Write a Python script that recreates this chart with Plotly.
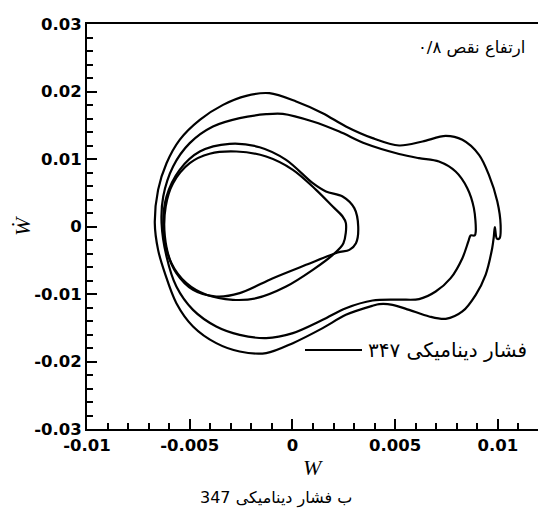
import plotly.graph_objects as go

# ---- data (W, dW/dt) ----
loopA_w = [-0.00112, 0.00018, 0.00147, 0.00260, 0.00390, 0.00519, 0.00633, 0.00746, 0.00827, 0.00908,
           0.00956, 0.00997, 0.01013, 0.01008, 0.00995, 0.00985, 0.00980, 0.00972, 0.00940, 0.00892,
           0.00827, 0.00746, 0.00665, 0.00568, 0.00487, 0.00422, 0.00390, 0.00260, 0.00147, 0.00002,
           -0.00128, -0.00257, -0.00371, -0.00484, -0.00565, -0.00621, -0.00654, -0.00670, -0.00654,
           -0.00613, -0.00549, -0.00451, -0.00338, -0.00225, -0.00112]
loopA_wd = [0.01975, 0.01852, 0.01679, 0.01482, 0.01309, 0.01200, 0.01259, 0.01343, 0.01284, 0.01062,
            0.00765, 0.00370, 0.00025, -0.00173, -0.00180, -0.00010, -0.00150, -0.00321, -0.00716, -0.01012,
            -0.01259, -0.01368, -0.01333, -0.01235, -0.01160, -0.01150, -0.01175, -0.01309, -0.01506, -0.01728,
            -0.01876, -0.01852, -0.01728, -0.01481, -0.01136, -0.00691, -0.00346, 0.00050, 0.00543,
            0.00938, 0.01284, 0.01580, 0.01802, 0.01936, 0.01975]

loopB_w = [-0.00047, 0.00099, 0.00228, 0.00357, 0.00519, 0.00616, 0.00713, 0.00794, 0.00851, 0.00883,
           0.00892, 0.00887, 0.00867, 0.00856, 0.00827, 0.00770, 0.00697, 0.00616, 0.00519, 0.00390,
           0.00260, 0.00147, 0.00002, -0.00128, -0.00257, -0.00371, -0.00484, -0.00565, -0.00613,
           -0.00637, -0.00629, -0.00581, -0.00500, -0.00387, -0.00257, -0.00128, -0.00047]
loopB_wd = [0.01669, 0.01556, 0.01407, 0.01225, 0.01074, 0.01012, 0.00963, 0.00815, 0.00568, 0.00272,
            -0.00074, -0.00133, -0.00133, -0.00222, -0.00469, -0.00765, -0.00963, -0.01076, -0.01083, -0.01096,
            -0.01210, -0.01383, -0.01580, -0.01654, -0.01605, -0.01481, -0.01235, -0.00889, -0.00444,
            0.00050, 0.00445, 0.00889, 0.01235, 0.01481, 0.01605, 0.01664, 0.01669]

loopC_w = [-0.00306, -0.00160, -0.00031, 0.00099, 0.00163, 0.00244, 0.00301, 0.00320, 0.00309, 0.00277,
           0.00220, 0.00066, -0.00095, -0.00257, -0.00371, -0.00484, -0.00565, -0.00613, -0.00629,
           -0.00613, -0.00549, -0.00451, -0.00306]
loopC_wd = [0.01225, 0.01175, 0.00988, 0.00642, 0.00519, 0.00445, 0.00272, 0.00000, -0.00247, -0.00346,
            -0.00385, -0.00568, -0.00765, -0.00987, -0.01037, -0.00938, -0.00691, -0.00345, 0.00050,
            0.00445, 0.00840, 0.01111, 0.01225]

loopD_w = [0.00260, 0.00248, 0.00196, 0.00099, -0.00031, -0.00176, -0.00290, -0.00419, -0.00516, -0.00589,
           -0.00621, -0.00617, -0.00581, -0.00500, -0.00403, -0.00273, -0.00128, 0.00002, 0.00115, 0.00196,
           0.00244, 0.00260]
loopD_wd = [0.00050, -0.00247, -0.00420, -0.00642, -0.00889, -0.01062, -0.01086, -0.01012, -0.00839, -0.00543,
            -0.00148, 0.00296, 0.00642, 0.00938, 0.01077, 0.01111, 0.01037, 0.00840, 0.00543, 0.00296,
            0.00148, 0.00050]

x_ticks = [-0.01, -0.005, 0, 0.005, 0.01]
x_tick_labels = ["-0.01", "-0.005", "0", "0.005", "0.01"]
y_ticks = [-0.03, -0.02, -0.01, 0, 0.01, 0.02, 0.03]
y_tick_labels = ["-0.03", "-0.02", "-0.01", "0", "0.01", "0.02", "0.03"]

series_name = "فشار دینامیکی ۳۴۷"
corner_label = "ارتفاع نقص ۰/۸"
caption = "ب فشار دینامیکی 347"

fig = go.Figure()
for xs, ys in [(loopA_w, loopA_wd), (loopB_w, loopB_wd), (loopC_w, loopC_wd), (loopD_w, loopD_wd)]:
    fig.add_trace(go.Scatter(x=xs, y=ys, mode="lines",
                             line=dict(color="black", width=2.2, shape="spline", smoothing=0.9),
                             showlegend=False, hoverinfo="skip"))

tickfont = dict(family="DejaVu Sans", size=16.5, color="black", weight="bold")

PW = 451.0  # plot width in px
PH = 405.0  # plot height in px


def px(X):
    return (X - 87) / PW


def py(Y):
    return (429 - Y) / PH


fig.update_xaxes(range=[-0.01, 0.01195], tickvals=x_ticks, ticktext=x_tick_labels,
                 ticks="inside", ticklen=10, tickwidth=2, tickcolor="black",
                 minor=dict(dtick=0.001, ticks="inside", ticklen=6, tickwidth=1.5, tickcolor="black"),
                 showline=True, linewidth=2, linecolor="black", mirror=True,
                 showgrid=False, zeroline=False, tickfont=tickfont, automargin=False)
fig.update_yaxes(range=[-0.03, 0.03], tickvals=y_ticks, ticktext=y_tick_labels,
                 ticks="inside", ticklen=10, tickwidth=2, tickcolor="black",
                 minor=dict(dtick=0.002, ticks="inside", ticklen=6, tickwidth=1.5, tickcolor="black"),
                 showline=True, linewidth=2, linecolor="black", mirror=False,
                 showgrid=False, zeroline=False, tickfont=tickfont, automargin=False)

fig.update_layout(width=538, height=516, margin=dict(l=87, r=0, t=24, b=87, autoexpand=False),
                  plot_bgcolor="white", paper_bgcolor="white", showlegend=False)

# legend sample line and label
fig.add_shape(type="line", xref="paper", yref="paper", x0=px(305), x1=px(362),
              y0=py(350), y1=py(350), line=dict(color="black", width=2))
fig.add_annotation(xref="paper", yref="paper", x=px(366), y=py(350),
                   xanchor="left", yanchor="middle", text=series_name, showarrow=False,
                   font=dict(family="DejaVu Sans", size=20, color="black"))
fig.add_annotation(xref="paper", yref="paper", x=px(527), y=py(48),
                   xanchor="right", yanchor="middle", text=corner_label, showarrow=False,
                   font=dict(family="DejaVu Sans", size=16.5, color="black"))
# axis titles
fig.add_annotation(xref="paper", yref="paper", x=px(313), y=py(467),
                   xanchor="center", yanchor="middle", text="W", showarrow=False,
                   font=dict(family="Liberation Serif", size=22, color="black", style="italic"))
fig.add_annotation(xref="paper", yref="paper", x=px(22), y=py(226),
                   xanchor="center", yanchor="middle", text="Ẇ", showarrow=False, textangle=-90,
                   font=dict(family="Liberation Serif", size=22, color="black", style="italic"))
fig.add_annotation(xref="paper", yref="paper", x=px(276), y=py(498),
                   xanchor="center", yanchor="middle", text=caption, showarrow=False,
                   font=dict(family="Liberation Sans Narrow, DejaVu Sans", size=16, color="black"))

fig.write_html("out.html",
               config={"displayModeBar": False},
               post_script="document.body.style.margin='0';document.body.style.overflow='hidden';")
